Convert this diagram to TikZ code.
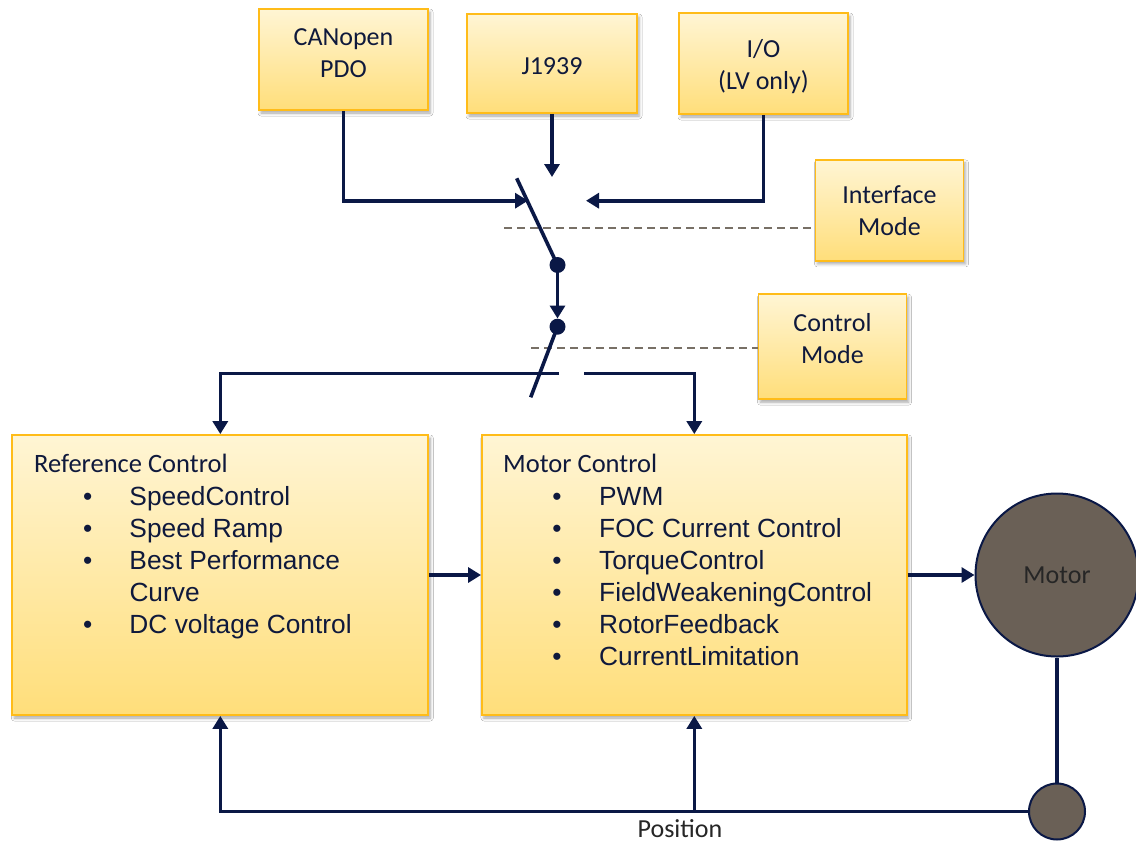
\documentclass[tikz,border=0pt]{standalone}
\usepackage{fontspec}
\setmainfont{Carlito}
\newfontfamily\arialf{Liberation Sans}
\usetikzlibrary{arrows.meta,shadows.blur}
\definecolor{navy}{RGB}{10,24,70}
\definecolor{boxtop}{RGB}{255,245,212}
\definecolor{boxbot}{RGB}{255,222,122}
\definecolor{boxedge}{RGB}{255,188,25}
\definecolor{motorfill}{RGB}{106,96,86}
\definecolor{dashgray}{RGB}{120,112,102}
\definecolor{txt}{RGB}{15,25,60}
\begin{document}
\begin{tikzpicture}[x=1pt,y=-1pt,
  ybox/.style={draw=boxedge, line width=1.8pt, top color=boxtop, bottom color=boxbot,
    blur shadow={shadow xshift=2pt, shadow yshift=-3pt, shadow blur radius=3pt, shadow opacity=35},
    inner sep=0pt, text=txt, font=\fontsize{26}{32}\selectfont, align=center},
  boxtxt/.style={inner sep=0pt, text=txt, font=\fontsize{26}{32}\selectfont, align=center},
  title/.style={inner sep=0pt, anchor=base west, text=txt, font=\fontsize{26.5}{32}\selectfont},
  item/.style={inner sep=0pt, anchor=base west, text=txt, font=\arialf\fontsize{26.3}{32}\selectfont},
  conn/.style={draw=navy, line width=3.6pt},
  arr/.style={conn, -{Triangle[length=13pt,width=15pt]}},
  dashline/.style={draw=dashgray, line width=2pt, dash pattern=on 8pt off 5pt},
  dot/.style={circle, fill=navy, minimum size=16pt, inner sep=0pt},
  motorc/.style={circle, draw=navy, line width=2pt, fill=motorfill, inner sep=0pt, font=\fontsize{26}{32}\selectfont, text=black!85}
]
\path[fill=white] (0,0) rectangle (1136,844);
\useasboundingbox (0,0) rectangle (1136,844);

% dashed mode lines
\coordinate (dashA) at (504.3,228.3);
\coordinate (dashB) at (531,348.3);

% top boxes
\node[ybox, minimum width=169pt, minimum height=101pt] (canopen) at (343.5,59.5) {};
\node[boxtxt] (canopentxt) at (343.5,53.5) {CANopen\\PDO};
\node[ybox, minimum width=170pt, minimum height=99pt] (j1939) at (552,63.5) {};
\node[boxtxt] (j1939txt) at (552,66) {J1939};
\node[ybox, minimum width=169pt, minimum height=101pt] (io) at (763.5,63.5) {};
\node[boxtxt] (iotxt) at (763.5,67) {I/O\\(LV only)};

% mode boxes
\node[ybox, minimum width=148pt, minimum height=101pt] (iface) at (889.5,210.4) {Interface\\Mode};
\node[ybox, minimum width=148pt, minimum height=105pt] (cmode) at (832.5,346.7) {};
\node[boxtxt] (cmodetxt) at (832.5,338.5) {Control\\Mode};

\draw[dashline] (dashA) -- (dashA -| iface.west);
\draw[dashline] (dashB) -- (dashB -| cmode.west);

% main boxes
\node[ybox, minimum width=416pt, minimum height=280pt] (refc) at (220.3,575) {};
\node[ybox, minimum width=424.7pt, minimum height=280pt] (motc) at (694.3,575) {};

% motor and sensor
\node[motorc, minimum size=163pt] (motor) at (1057,575) {Motor};
\node[motorc, minimum size=56pt] (enc) at (1057,811.5) {};

% switch
\node[dot] (d1) at (557.5,265) {};
\node[dot] (d2) at (557.5,326.7) {};
\coordinate (swtop) at (516.7,178.3);
\coordinate (inL) at (528,200.7);
\coordinate (inT) at (552,177);
\coordinate (inR) at (586,200.7);
\coordinate (bladeend) at (530.7,397.3);
\coordinate (outL) at (559,373.3);
\coordinate (outR) at (584,373.3);

\draw[arr] (canopen.south) |- (inL);
\draw[arr] (j1939.south) -- (inT);
\draw[arr] (io.south) |- (inR);
\draw[conn] (swtop) -- (d1.center);
\draw[arr] (d1.center) -- (d2.north);
\draw[conn] (d2.center) -- (bladeend);
\draw[arr] (outL) -| (refc.north);
\draw[arr] (outR) -| (motc.north);

\draw[arr] (refc.east) -- (motc.west);
\draw[arr] (motc.east) -- (motor.west);
\draw[conn] (motor.south) -- (enc.north);
\draw[arr] (enc.west) -| (refc.south);
\coordinate (pj) at (motc.south |- enc.west);
\draw[arr] (pj) -- (motc.south);
\node[inner sep=0pt, font=\fontsize{26}{32}\selectfont, text=black!85] (pos) at (680,829) {Position};

% Reference Control text
\node[title] (rt) at (34,472) {Reference Control};
\node[item] (r1) at (82.8,505.7) {\makebox[46.5pt][l]{\textbullet}SpeedControl};
\node[item] (r2) at (82.8,537.7) {\makebox[46.5pt][l]{\textbullet}Speed Ramp};
\node[item] (r3) at (82.8,569.7) {\makebox[46.5pt][l]{\textbullet}Best Performance};
\node[item] (r3b) at (129.3,601.7) {Curve};
\node[item] (r4) at (82.8,633.7) {\makebox[46.5pt][l]{\textbullet}DC voltage Control};

% Motor Control text
\node[title] (mt) at (503,472) {Motor Control};
\node[item] (m1) at (552.2,505.7) {\makebox[46.8pt][l]{\textbullet}PWM};
\node[item] (m2) at (552.2,537.7) {\makebox[46.8pt][l]{\textbullet}FOC Current Control};
\node[item] (m3) at (552.2,569.7) {\makebox[46.8pt][l]{\textbullet}TorqueControl};
\node[item] (m4) at (552.2,601.7) {\makebox[46.8pt][l]{\textbullet}FieldWeakeningControl};
\node[item] (m5) at (552.2,633.7) {\makebox[46.8pt][l]{\textbullet}RotorFeedback};
\node[item] (m6) at (552.2,665.7) {\makebox[46.8pt][l]{\textbullet}CurrentLimitation};
\end{tikzpicture}
\end{document}
